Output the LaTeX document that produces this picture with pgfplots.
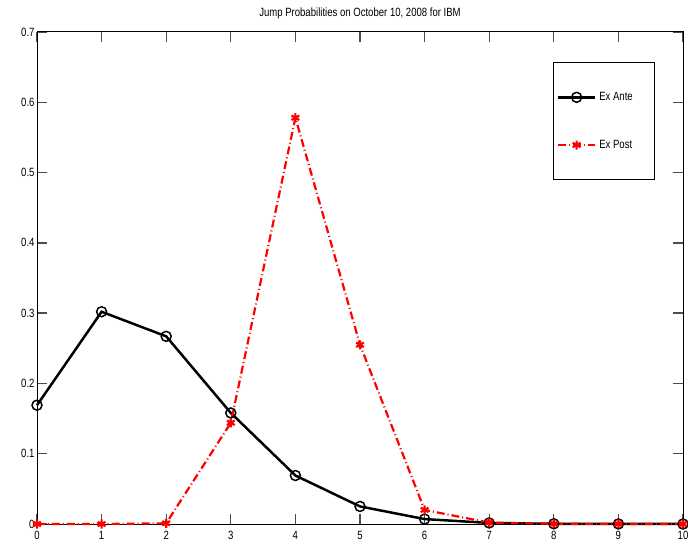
\documentclass[border=0pt]{standalone}
\usepackage{fontspec}
\setmainfont{Liberation Sans}[FakeStretch=0.8]
\usepackage{pgfplots}
\pgfplotsset{compat=1.18}
\begin{document}
\begin{tikzpicture}
\begin{axis}[
  scale only axis,
  width=646bp, height=492bp,
  xmin=0, xmax=10, ymin=0, ymax=0.7,
  xtick={0,1,2,3,4,5,6,7,8,9,10},
  ytick={0,0.1,0.2,0.3,0.4,0.5,0.6,0.7},
  yticklabel style={/pgf/number format/fixed},
  /pgf/number format/assume math mode=true,
  tick align=inside,
  xtick pos=both, ytick pos=both,
  major tick length=10bp,
  tick style={draw=black!70, line width=1.3pt},
  axis line style={black, line width=1pt},
  ticklabel style={font=\fontsize{12}{14}\selectfont},
  xticklabel style={yshift=-4bp},
  yticklabel style={xshift=1bp},
  title={Jump Probabilities on October 10, 2008 for IBM},
  title style={font=\fontsize{12}{14}\selectfont, yshift=4bp},
  clip=false,
  legend style={
    at={(0.957,0.939)}, anchor=north east,
    draw=black, line width=0.9pt,
    font=\fontsize{12}{14}\selectfont,
    row sep=34bp, inner xsep=3bp, inner ysep=28bp,
    nodes={inner xsep=3bp},
  },
  legend cell align=left,
  legend image code/.code={
    \draw[#1] (0cm,0cm) -- (1.3cm,0cm);
    \draw[#1, solid] plot coordinates {(0.65cm,0cm)};
  },
]
\addplot[black, line width=2.5pt, mark=o, mark size=5bp,
  mark options={line width=1.5pt, solid}]
  coordinates {(0,0.169) (1,0.302) (2,0.267) (3,0.158) (4,0.069)
               (5,0.025) (6,0.007) (7,0.0015) (8,0.0003) (9,0.0001) (10,0.0)};
\addlegendentry{Ex Ante\hspace*{16bp}\null}
\addplot[red, line width=2.2pt, dash pattern=on 8pt off 3pt on 1pt off 3pt,
  mark=asterisk, mark size=4.5bp,
  mark options={line width=2.2pt, solid}]
  coordinates {(0,0.0) (1,0.0) (2,0.001) (3,0.144) (4,0.578)
               (5,0.255) (6,0.020) (7,0.002) (8,0.0003) (9,0.0001) (10,0.0)};
\addlegendentry{Ex Post\hspace*{16bp}\null}
\end{axis}
\pgfresetboundingbox
\path[use as bounding box] ([xshift=-37bp,yshift=-33bp]current axis.south west)
  rectangle ([xshift=5bp,yshift=32bp]current axis.north east);
\end{tikzpicture}
\end{document}
